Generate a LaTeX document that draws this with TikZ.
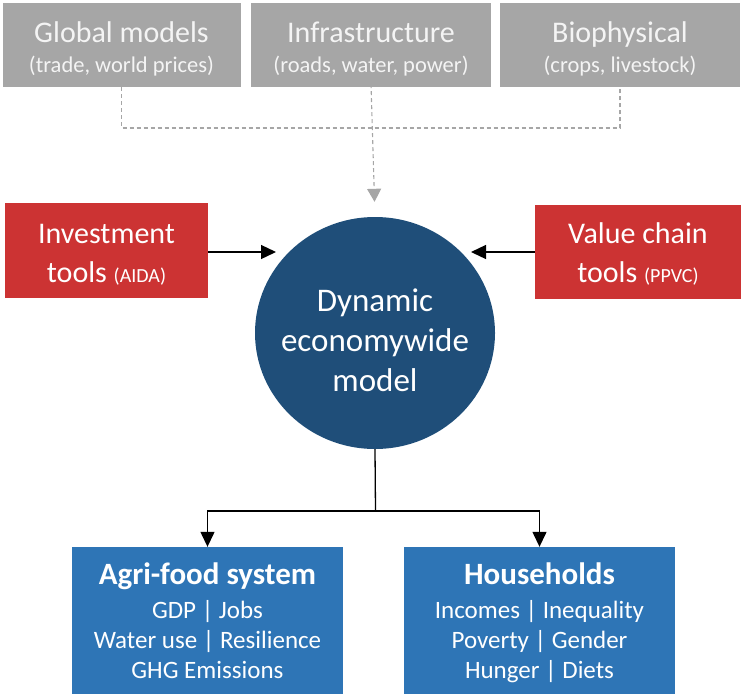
\documentclass[tikz,border=0pt]{standalone}
\usepackage{fontspec}
\setmainfont{Carlito}
\usetikzlibrary{arrows.meta,shapes.geometric}

\definecolor{boxgray}{HTML}{A6A6A6}
\definecolor{graytext}{HTML}{F4F4F4}
\definecolor{dashgray}{HTML}{A6A6A6}
\definecolor{toolred}{HTML}{CC3333}
\definecolor{coreblue}{HTML}{1F4E79}
\definecolor{outblue}{HTML}{2E75B6}

\newcommand{\fsz}[2]{\fontsize{#1}{#2}\selectfont}

\tikzset{
  inputbox/.style={fill=boxgray, text=graytext, inner sep=0pt, align=center,
                   minimum height=84pt, font=\fsz{30}{30}},
  toolbox/.style={fill=toolred, text=white, inner sep=0pt, align=center,
                  minimum height=95pt, font=\fsz{30}{39}},
  corenode/.style={ellipse, fill=coreblue, text=white, inner xsep=-20pt, inner ysep=0pt,
                   align=center, minimum width=240pt, minimum height=232pt,
                   font=\fsz{33}{40}},
  outbox/.style={fill=outblue, text=white, inner sep=0pt, align=center,
                 minimum width=271pt, minimum height=147pt, font=\fsz{25}{30}},
  feed/.style={draw=dashgray, line width=1.1pt, dash pattern=on 4pt off 3pt},
  link/.style={draw=black, line width=1.3pt},
  tip/.style={-{Triangle[length=15pt,width=14pt]}},
}
\newcommand{\sub}[1]{{\fsz{22.5}{30}#1}}
\newcommand{\acr}[1]{{\fsz{20}{39}#1}}
\newcommand{\head}[1]{{\fsz{31}{30}\bfseries #1}}
\newcommand{\lift}[1]{\rule{0pt}{#1}}
\newcommand{\nodepth}[1]{\raisebox{0pt}[\height][0pt]{#1}}

\begin{document}
\begin{tikzpicture}[x=1pt,y=-1pt]
  \useasboundingbox (0,0) rectangle (741,694);

  % source models along the top
  \node[inputbox, minimum width=238pt] (glob) at (121.5,45)
    {\lift{29pt}Global models\\\sub{(trade, world prices)}};
  \node[inputbox, minimum width=240pt] (infra) at (371,45)
    {\lift{29pt}Infrastructure\\\sub{(roads, water, power)}};
  \node[inputbox, minimum width=240pt] (bio) at (620,45)
    {\lift{29pt}Biophysical\\\sub{(crops, livestock)}};

  % side tools
  \node[toolbox, minimum width=203pt] (inv) at (106.5,250.5)
    {\lift{27pt}Investment\\tools \acr{(AIDA)}};
  \node[toolbox, minimum width=206pt, minimum height=94pt] (vc) at (638,252)
    {\lift{25pt}Value chain\\tools \acr{(PPVC)}};

  % central model
  \node[corenode] (dyn) at (375,333)
    {\lift{37pt}Dynamic\\economywide\\model};

  % outcomes
  \node[outbox] (agri) at (207.5,620.5)
    {\head{Agri-food system}\\[4pt]
     GDP | Jobs\\Water use | Resilience\\GHG Emissions};
  \node[outbox] (hh) at (539.5,620.5)
    {\head{Households\vphantom{gy}}\\[4pt]
     Incomes | Inequality\\Poverty | Gender\\\nodepth{Hunger | Diets}};

  % junction points of the connectors
  \coordinate (bus) at (371,128);
  \coordinate (invTip) at (276,252);
  \coordinate (vcTip) at (471,252);
  \coordinate (split) at (375.5,511);

  % dashed feeds from the source models
  \draw[feed] (glob.south) |- (bus) -| (bio.south);
  \draw[feed, -{Triangle[length=13pt,width=14pt]}, dashgray, shorten >=15pt]
    ([yshift=3pt]infra.south) -- (dyn.north);

  % tool links
  \draw[link, tip] (inv.east |- invTip) -- (invTip);
  \draw[link, tip] (vc.west |- vcTip) -- (vcTip);

  % model outputs
  \draw[link] (dyn.south) -- (split);
  \draw[link, tip] (split) -| (agri.north);
  \draw[link, tip] (split) -| (hh.north);
\end{tikzpicture}
\end{document}
